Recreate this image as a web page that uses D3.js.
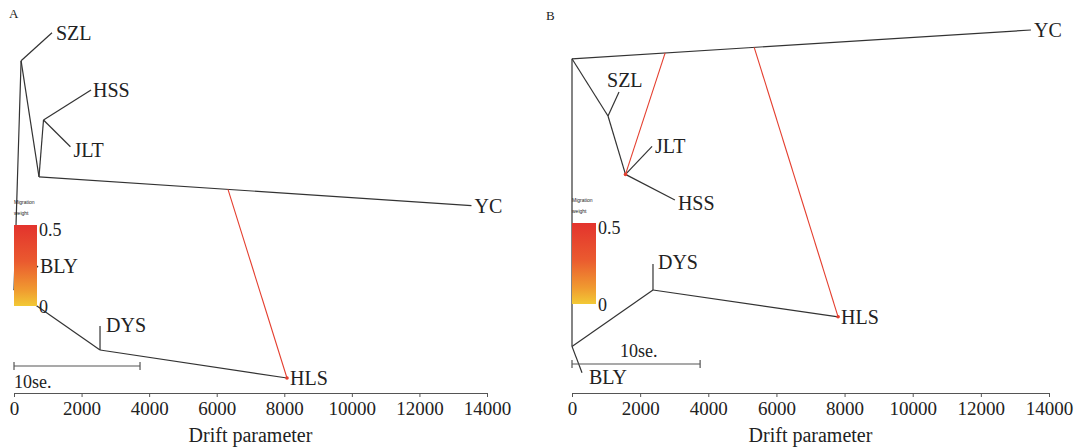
<!DOCTYPE html>
<html>
<head>
    <meta charset="utf-8">
    <title>TreeMix drift trees</title>
    <script src="https://cdn.jsdelivr.net/npm/d3@7"></script>
    <style>
        html, body {
            margin: 0;
            background-color: #fff;
        }
        svg text {
            font-family: "Liberation Serif", "DejaVu Serif", "Times New Roman", serif;
            fill: #222;
        }
        svg .edge {
            stroke: #333;
            stroke-width: 1.2;
            fill: none;
        }
        svg .mig {
            stroke-width: 1.1;
            fill: none;
        }
        svg .axis path,
        svg .axis line {
            stroke: #555;
        }
        svg .axis text {
            font-size: 19px;
            fill: #222;
        }
    </style>
</head>
<body>
<svg></svg>
<script>
// --- data (x = drift parameter, y = tree position 0..100) ---
var driftTicks = [0, 2000, 4000, 6000, 8000, 10000, 12000, 14000];
var legendTicks = [0, 0.5];

var nodesA = [
    { id: 'root', x: 0,     y: 27.5 },
    { id: 'n1',   x: 210,   y: 84.8 },
    { id: 'SZL',  x: 1125,  y: 91.8 },
    { id: 'n2',   x: 740,   y: 55.8 },
    { id: 'n3',   x: 873,   y: 70 },
    { id: 'HSS',  x: 2280,  y: 77.5 },
    { id: 'JLT',  x: 1670,  y: 63.3 },
    { id: 'YC',   x: 13540, y: 48.6 },
    { id: 'BLY',  x: 710,   y: 33.5 },
    { id: 'n4',   x: 2546,  y: 12.5 },
    { id: 'DYS',  x: 2546,  y: 18.5 },
    { id: 'HLS',  x: 8080,  y: 5.5 }
];
var edgesA = [
    ['root', 'n1'], ['n1', 'SZL'], ['n1', 'n2'], ['n2', 'n3'],
    ['n3', 'HSS'], ['n3', 'JLT'], ['n2', 'YC'], ['root', 'BLY'],
    ['root', 'n4'], ['n4', 'DYS'], ['n4', 'HLS']
];
var migA = [
    { from: 'n2', via: 'YC', t: 0.437, to: 'HLS', w: 0.45 }
];
var leavesA = ['SZL', 'HSS', 'JLT', 'YC', 'BLY', 'DYS', 'HLS'];
var seA = 3730;

var nodesB = [
    { id: 'root', x: 0,     y: 85.3 },
    { id: 'YC',   x: 13470, y: 92.5 },
    { id: 'n1',   x: 1057,  y: 71 },
    { id: 'SZL',  x: 1380,  y: 77 },
    { id: 'n2',   x: 1570,  y: 56.4 },
    { id: 'JLT',  x: 2350,  y: 63.4 },
    { id: 'HSS',  x: 3020,  y: 50 },
    { id: 'n3',   x: 0,     y: 13.4 },
    { id: 'BLY',  x: 294,   y: 6.8 },
    { id: 'n4',   x: 2377,  y: 27.5 },
    { id: 'DYS',  x: 2377,  y: 34 },
    { id: 'HLS',  x: 7810,  y: 20.8 }
];
var edgesB = [
    ['root', 'YC'], ['root', 'n1'], ['n1', 'SZL'], ['n1', 'n2'],
    ['n2', 'JLT'], ['n2', 'HSS'], ['root', 'n3'], ['n3', 'BLY'],
    ['n3', 'n4'], ['n4', 'DYS'], ['n4', 'HLS']
];
var migB = [
    { from: 'root', via: 'YC', t: 0.203, to: 'n2',  w: 0.45 },
    { from: 'root', via: 'YC', t: 0.397, to: 'HLS', w: 0.45 }
];
var leavesB = ['YC', 'SZL', 'JLT', 'HSS', 'BLY', 'DYS', 'HLS'];
var seB = 3760;

(function () {
    var w = 1074,
        h = 448,
        serif = '"Liberation Serif", "DejaVu Serif", serif';

    var svg = d3.select('svg')
        .attr('width', w)
        .attr('height', h)
        .attr('viewBox', '0 0 ' + w + ' ' + h);

    var defs = svg.append('defs');
    var grad = defs.append('linearGradient')
        .attr('id', 'migGrad')
        .attr('x1', 0).attr('y1', 1).attr('x2', 0).attr('y2', 0);
    [[0, '#f2c935'], [0.2, '#f09a30'], [0.55, '#ea5a2f'], [1, '#e3332d']].forEach(function (s) {
        grad.append('stop').attr('offset', s[0]).attr('stop-color', s[1]);
    });

    var migColor = d3.scaleLinear()
        .domain([0, 0.25, 0.5])
        .range(['#f2c935', '#ea6a30', '#e3332d']);

    var y = d3.scaleLinear().domain([0, 100]).range([400, 0]);

    // label nudges in px, per panel
    var labelOffsets = {
        A: { SZL: [4, 0], DYS: [6, -1], BLY: [2, 0], JLT: [3, 3], HSS: [2, 0] },
        B: { SZL: [-12, -12], DYS: [5, -2], BLY: [7, 4], HSS: [3, 3] }
    };

    var panelsCfg = [
        { name: 'A', x0: 14,  x1: 487,  nodes: nodesA, edges: edgesA, mig: migA, leaves: leavesA, se: seA,
          title: [9, 18], legend: [14, 225, 23, 81], seBar: { y: 366, textBelow: true } },
        { name: 'B', x0: 572, x1: 1049, nodes: nodesB, edges: edgesB, mig: migB, leaves: leavesB, se: seB,
          title: [546, 20], legend: [572, 223, 24, 81], seBar: { y: 364, textBelow: false } }
    ];

    panelsCfg.forEach(function (p) {
        var x = d3.scaleLinear().domain([0, 14000]).range([p.x0, p.x1]);
        var byId = {};
        p.nodes.forEach(function (n) { byId[n.id] = n; });

        var g = svg.append('g').attr('class', 'panel');

        // tree edges
        g.selectAll('line.edge')
            .data(p.edges)
            .enter().append('line')
            .attr('class', 'edge')
            .attr('x1', function (d) { return x(byId[d[0]].x); })
            .attr('y1', function (d) { return y(byId[d[0]].y); })
            .attr('x2', function (d) { return x(byId[d[1]].x); })
            .attr('y2', function (d) { return y(byId[d[1]].y); });

        // migration edges
        function migStart(m) {
            var a = byId[m.from], b = byId[m.via];
            return [x(a.x + (b.x - a.x) * m.t), y(a.y + (b.y - a.y) * m.t)];
        }
        g.selectAll('line.mig')
            .data(p.mig)
            .enter().append('line')
            .attr('class', 'mig')
            .attr('stroke', function (d) { return migColor(d.w); })
            .attr('x1', function (d) { return migStart(d)[0]; })
            .attr('y1', function (d) { return migStart(d)[1]; })
            .attr('x2', function (d) { return x(byId[d.to].x); })
            .attr('y2', function (d) { return y(byId[d.to].y); });
        g.selectAll('circle.mighead')
            .data(p.mig)
            .enter().append('circle')
            .attr('class', 'mighead')
            .attr('r', 1.8)
            .attr('fill', function (d) { return migColor(d.w); })
            .attr('cx', function (d) { return x(byId[d.to].x); })
            .attr('cy', function (d) { return y(byId[d.to].y); });

        // legend
        var lg = p.legend;
        var legY = d3.scaleLinear().domain([0, 0.5]).range([lg[1] + lg[3], lg[1]]);
        g.append('rect')
            .attr('x', lg[0]).attr('y', lg[1])
            .attr('width', lg[2]).attr('height', lg[3])
            .attr('fill', 'url(#migGrad)');
        g.append('text')
            .attr('x', lg[0]).attr('y', lg[1] - 21)
            .style('font-size', '5px').style('font-family', 'Arial, sans-serif')
            .text('Migration');
        g.append('text')
            .attr('x', lg[0]).attr('y', lg[1] - 10)
            .style('font-size', '5px').style('font-family', 'Arial, sans-serif')
            .text('weight');
        g.selectAll('text.legtick')
            .data(legendTicks)
            .enter().append('text')
            .attr('class', 'legtick')
            .attr('x', lg[0] + lg[2] + 2)
            .attr('y', function (d) { return legY(d) + (d > 0 ? 11 : 7); })
            .style('font-size', '18px')
            .style('font-family', serif)
            .text(function (d) { return d; });

        // leaf labels
        var offs = labelOffsets[p.name];
        g.selectAll('text.leaf')
            .data(p.leaves)
            .enter().append('text')
            .attr('class', 'leaf')
            .attr('x', function (d) { return x(byId[d].x) + (offs[d] ? offs[d][0] : 3); })
            .attr('y', function (d) { return y(byId[d].y) + (offs[d] ? offs[d][1] : 0) + 7; })
            .style('font-size', '20px')
            .style('font-family', serif)
            .text(function (d) { return d; });

        // 10 s.e. scale bar
        var sb = g.append('g').attr('class', 'sebar');
        var sx0 = x(0), sx1 = x(p.se), sy = p.seBar.y;
        sb.append('line').attr('class', 'edge').style('stroke', '#555')
            .attr('x1', sx0).attr('x2', sx1).attr('y1', sy).attr('y2', sy);
        [sx0, sx1].forEach(function (sx) {
            sb.append('line').attr('class', 'edge').style('stroke', '#555')
                .attr('x1', sx).attr('x2', sx).attr('y1', sy - 4).attr('y2', sy + 4);
        });
        sb.append('text')
            .attr('x', p.seBar.textBelow ? sx0 : sx0 + 48)
            .attr('y', p.seBar.textBelow ? sy + 22 : sy - 7)
            .style('font-size', '18px')
            .style('font-family', serif)
            .text('10se.');

        // x axis
        g.append('g')
            .attr('class', 'axis')
            .attr('transform', 'translate(0,393)')
            .call(d3.axisBottom(x).tickValues(driftTicks).tickFormat(d3.format('d'))
                .tickSize(4).tickSizeOuter(0).tickPadding(5))
            .call(function (a) {
                a.attr('font-family', null);
                a.selectAll('text').style('font-family', serif);
            });

        g.append('text')
            .attr('x', (p.x0 + p.x1) / 2)
            .attr('y', 442)
            .attr('text-anchor', 'middle')
            .style('font-size', '20px')
            .style('font-family', serif)
            .text('Drift parameter');

        g.append('text')
            .attr('x', p.title[0]).attr('y', p.title[1])
            .style('font-size', '13px')
            .style('font-family', serif)
            .text(p.name);
    });
})();
</script>
</body>
</html>
